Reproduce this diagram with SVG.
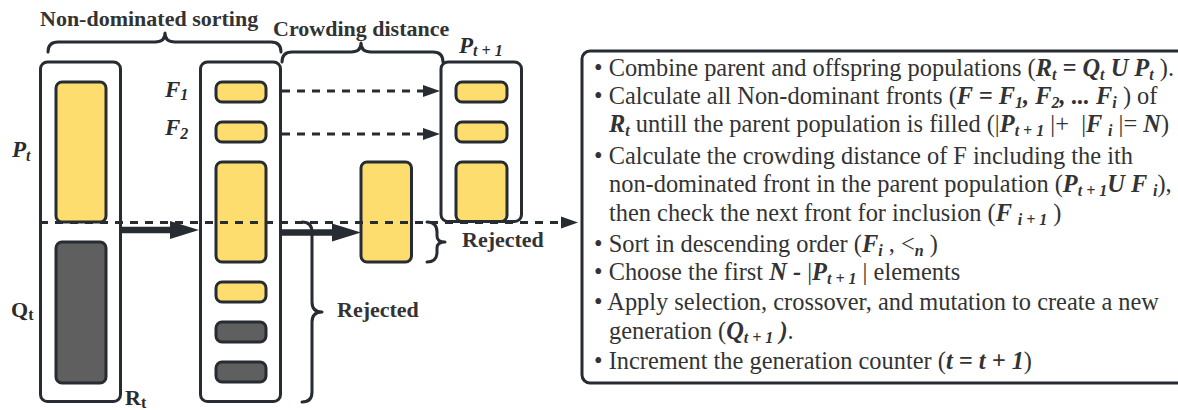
<svg xmlns="http://www.w3.org/2000/svg" width="1178" height="410" viewBox="0 0 1178 410">
  <style>
    .frame { fill: #ffffff; stroke: #272b32; stroke-width: 3; }
    .yel { fill: #fddd6e; stroke: #272b32; stroke-width: 3; }
    .drk { fill: #5f5f5f; stroke: #272b32; stroke-width: 3; }
    .brace { fill: none; stroke: #272b32; stroke-width: 3; stroke-linecap: round; stroke-linejoin: round; }
    .dash { fill: none; stroke: #272b32; stroke-width: 3; stroke-dasharray: 8 7; }
    .thick { fill: none; stroke: #272b32; stroke-width: 6.5; }
    .head { font-family: "Liberation Serif", serif; font-size: 22px; font-weight: bold; fill: #333333; }
    .sym { font-family: "Liberation Serif", serif; font-size: 23px; font-weight: bold; font-style: italic; fill: #2b2b2b; }
    .symu { font-family: "Liberation Serif", serif; font-size: 22px; font-weight: bold; fill: #2b2b2b; }
    .s { font-size: 16px; }
    .body { font-family: "Liberation Serif", serif; font-size: 24.4px; fill: #333333; }
    .bi { font-weight: bold; font-style: italic; }
    .sb { font-size: 16px; }
  </style>
  <defs>
    <marker id="dashHead" markerUnits="userSpaceOnUse" markerWidth="18" markerHeight="13" refX="0" refY="6.5" orient="auto">
      <path d="M0,0.5 L17,6.5 L0,12.5 Z" fill="#272b32"/>
    </marker>
    <marker id="thickHead" markerUnits="userSpaceOnUse" markerWidth="30" markerHeight="19" refX="1" refY="9.5" orient="auto">
      <path d="M0,0.5 L29,9.5 L0,18.5 Z" fill="#272b32"/>
    </marker>
  </defs>

  <!-- section headings and braces -->
  <g id="headings">
    <text class="head" x="40" y="26">Non-dominated sorting</text>
    <path class="brace" d="M48,52 Q48,42 58,42 L155,42 Q165,42 165,33 Q165,42 175,42 L271,42 Q281,42 281,52"/>
    <text class="head" x="273" y="36">Crowding distance</text>
    <path class="brace" d="M282,62 Q282,52 292,52 L351,52 Q361,52 361,43 Q361,52 371,52 L433,52 Q443,52 443,62"/>
  </g>

  <!-- combined population R_t = P_t + Q_t -->
  <g id="pop-Rt">
    <rect class="frame" x="40.5" y="62" width="80" height="339.5" rx="7"/>
    <rect class="yel" x="56" y="82" width="50" height="140" rx="6"/>
    <rect class="drk" x="56" y="242" width="50" height="141" rx="6"/>
    <text class="sym" x="12" y="157">P<tspan class="s" dy="4">t</tspan></text>
    <text class="symu" x="11" y="317">Q<tspan class="s" dy="3">t</tspan></text>
    <text class="symu" x="125" y="405">R<tspan class="s" dy="3">t</tspan></text>
  </g>

  <!-- sorted fronts F1, F2, ... -->
  <g id="fronts">
    <rect class="frame" x="200.5" y="62" width="80" height="339.5" rx="7"/>
    <rect class="yel" x="216" y="82" width="50" height="20" rx="6"/>
    <rect class="yel" x="216" y="122" width="50" height="20" rx="6"/>
    <rect class="yel" x="216" y="162" width="50" height="100" rx="6"/>
    <rect class="yel" x="216" y="282" width="50" height="20" rx="6"/>
    <rect class="drk" x="216" y="322" width="50" height="20" rx="6"/>
    <rect class="drk" x="216" y="362" width="50" height="20" rx="6"/>
    <text class="sym" x="165" y="97">F<tspan class="s" dy="3">1</tspan></text>
    <text class="sym" x="165" y="135">F<tspan class="s" dy="4">2</tspan></text>
  </g>

  <!-- next parent population P_t+1 -->
  <g id="pop-Pt1">
    <rect class="frame" x="441" y="62" width="80.5" height="159.5" rx="7"/>
    <rect class="yel" x="456" y="82" width="51" height="20" rx="6"/>
    <rect class="yel" x="456" y="122" width="51" height="20" rx="6"/>
    <rect class="yel" x="456" y="162" width="51" height="59.5" rx="6"/>
    <text class="sym" x="459" y="53">P<tspan class="s" dy="3">t + 1</tspan></text>
  </g>

  <!-- front split by crowding distance -->
  <g id="crowd-split">
    <rect class="yel" x="361" y="162" width="50.5" height="100" rx="6"/>
  </g>

  <!-- rejected parts -->
  <g id="rejected">
    <path class="brace" d="M427,222 Q437,222 437,232 L437,236 Q437,242 445,242 Q437,242 437,248 L437,252 Q437,262 427,262"/>
    <text class="head" x="462" y="247">Rejected</text>
    <path class="brace" d="M302,222 Q312,222 312,232 L312,302 Q312,312 322,312 Q312,312 312,322 L312,392 Q312,402 302,402"/>
    <text class="head" x="337" y="317">Rejected</text>
  </g>

  <!-- connectors -->
  <g id="connectors">
    <line class="dash" x1="40" y1="222.5" x2="561" y2="222.5" marker-end="url(#dashHead)"/>
    <line class="dash" x1="282" y1="91" x2="423" y2="91" marker-end="url(#dashHead)"/>
    <line class="dash" x1="282" y1="134" x2="423" y2="134" marker-end="url(#dashHead)"/>
    <line class="thick" x1="121" y1="230" x2="171" y2="230" marker-end="url(#thickHead)"/>
    <line class="thick" x1="281" y1="232.5" x2="333" y2="232.5" marker-end="url(#thickHead)"/>
  </g>

  <!-- algorithm steps -->
  <g id="steps">
    <rect class="frame" x="582" y="51" width="620" height="332" rx="8"/>
    <text class="body" x="594" y="76">• Combine parent and offspring populations (<tspan class="bi">R</tspan><tspan class="bi sb" dy="4">t</tspan><tspan class="bi" dy="-4"> = Q</tspan><tspan class="bi sb" dy="4">t</tspan><tspan class="bi" dy="-4"> U P</tspan><tspan class="bi sb" dy="4">t</tspan><tspan dy="-4"> ).</tspan></text>
    <text class="body" x="594" y="104">• Calculate all Non-dominant fronts (<tspan class="bi">F = F</tspan><tspan class="bi sb" dy="4">1</tspan><tspan class="bi" dy="-4">, F</tspan><tspan class="bi sb" dy="4">2</tspan><tspan class="bi" dy="-4">, ... F</tspan><tspan class="bi sb" dy="4">i</tspan><tspan dy="-4"> ) of</tspan></text>
    <text class="body" x="609" y="132" xml:space="preserve"><tspan class="bi">R</tspan><tspan class="bi sb" dy="4">t</tspan><tspan dy="-4"> untill the parent population is filled (|</tspan><tspan class="bi">P</tspan><tspan class="bi sb" dy="4">t + 1</tspan><tspan dy="-4"> |+  |</tspan><tspan class="bi">F </tspan><tspan class="bi sb" dy="4">i</tspan><tspan dy="-4"> |= </tspan><tspan class="bi">N</tspan>)</text>
    <text class="body" x="594" y="164">• Calculate the crowding distance of F including the ith</text>
    <text class="body" x="609" y="192">non-dominated front in the parent population (<tspan class="bi">P</tspan><tspan class="bi sb" dy="4">t + 1</tspan><tspan class="bi" dy="-4">U F </tspan><tspan class="bi sb" dy="4">i</tspan><tspan dy="-4">),</tspan></text>
    <text class="body" x="609" y="221">then check the next front for inclusion (<tspan class="bi">F </tspan><tspan class="bi sb" dy="4">i + 1</tspan><tspan dy="-4"> )</tspan></text>
    <text class="body" x="594" y="252">• Sort in descending order (<tspan class="bi">F</tspan><tspan class="bi sb" dy="4">i</tspan><tspan dy="-4"> , &lt;</tspan><tspan class="bi sb" dy="4">n</tspan><tspan dy="-4"> )</tspan></text>
    <text class="body" x="594" y="280">• Choose the first <tspan class="bi">N - </tspan>|<tspan class="bi">P</tspan><tspan class="bi sb" dy="4">t + 1</tspan><tspan dy="-4"> | elements</tspan></text>
    <text class="body" x="594" y="310">• Apply selection, crossover, and mutation to create a new</text>
    <text class="body" x="609" y="339">generation (<tspan class="bi">Q</tspan><tspan class="bi sb" dy="4">t + 1</tspan><tspan class="bi" dy="-4"> )</tspan>.</text>
    <text class="body" x="594" y="369">• Increment the generation counter (<tspan class="bi">t = t + 1</tspan>)</text>
  </g>
</svg>
